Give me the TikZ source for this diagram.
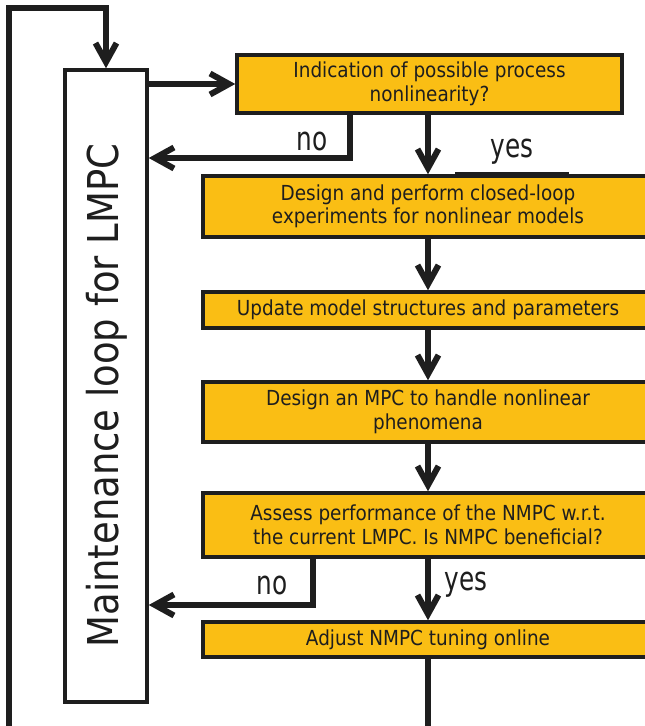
\documentclass[tikz,border=0pt]{standalone}
\usepackage{fontspec}
\setmainfont{DejaVu Sans}
\newfontfamily\boxfont{DejaVu Sans}[FakeStretch=0.89]
\newfontfamily\lblfont{DejaVu Sans}[FakeStretch=0.75]
\newfontfamily\bigfont{DejaVu Sans}[FakeStretch=0.87]
\usetikzlibrary{arrows.meta}
\definecolor{boxfill}{RGB}{250,190,20}
\definecolor{ink}{RGB}{30,30,30}
\begin{document}
\begin{tikzpicture}[x=1pt,y=-1pt,
  stepbox/.style={draw=ink, line width=3.5pt, fill=boxfill, inner sep=0pt, align=center,
    font=\boxfont\fontsize{20.7}{23.5}\selectfont, text=ink},
  conn/.style={draw=ink, line width=6pt},
  arr/.style={conn, -{Straight Barb[length=19pt,width=21pt]}},
  lbl/.style={inner sep=0pt, anchor=base, text=ink, font=\lblfont\fontsize{33}{36}\selectfont}
]
\clip (0,0) rectangle (645,726);
\fill[white] (0,0) rectangle (645,726);

% maintenance box
\node[draw=ink, line width=3.5pt, fill=white, minimum width=82pt, minimum height=632pt, inner sep=0pt] (lmpc) at (106,386) {};
\node[rotate=90, anchor=base, inner sep=0pt, text=ink, font=\bigfont\fontsize{42.5}{45}\selectfont] (mtext) at (118,395.5)
  {Maintenance loop for LMPC};

% step boxes
\node[stepbox, minimum width=385pt, minimum height=58pt] (ind) at (429.5,84)
  {Indication of possible process\\nonlinearity?};
\node[stepbox, minimum width=450pt, minimum height=61pt] (des1) at (428,206.5)
  {Design and perform closed-loop\\experiments for nonlinear models};
\node[stepbox, minimum width=450pt, minimum height=36pt] (upd) at (428,310)
  {Update model structures and parameters};
\node[stepbox, minimum width=450pt, minimum height=60pt] (des2) at (428,412)
  {Design an MPC to handle nonlinear\\phenomena};
\node[stepbox, minimum width=450pt, minimum height=64pt] (ass) at (428,525)
  {Assess performance of the NMPC w.r.t.\\the current LMPC. Is NMPC beneficial?};
\node[stepbox, minimum width=450pt, minimum height=35pt] (adj) at (428,639.5)
  {Adjust NMPC tuning online};

% stray thick segment on top of the second box
\draw[ink, line width=4pt] (455,174) -- (569,174);

% connectors
\coordinate (o1) at (9,740);
\coordinate (o2) at (9,8);
\draw[arr] (o1) -- (o2) -- (o2 -| lmpc.north) -- (lmpc.north);
\draw[arr] (lmpc.east |- ind.west) -- (ind.west);
\coordinate (n1) at (350,158);
\draw[arr] (ind.south -| n1) -- (n1) -- (lmpc.east |- n1);
\draw[arr] (des1.north |- ind.south) -- (des1.north);
\draw[arr] (des1) -- (upd);
\draw[arr] (upd) -- (des2);
\draw[arr] (des2) -- (ass);
\coordinate (n2) at (313,605);
\draw[arr] (ass.south -| n2) -- (n2) -- (lmpc.east |- n2);
\draw[arr] (ass) -- (adj);
\coordinate (bot) at (428,740);
\draw[conn] (adj) -- (bot);

% labels
\node[lbl] (no1) at (312,150) {no};
\node[lbl] (yes1) at (512,157) {yes};
\node[lbl] (no2) at (272,594) {no};
\node[lbl] (yes2) at (466,590) {yes};
\end{tikzpicture}
\end{document}
